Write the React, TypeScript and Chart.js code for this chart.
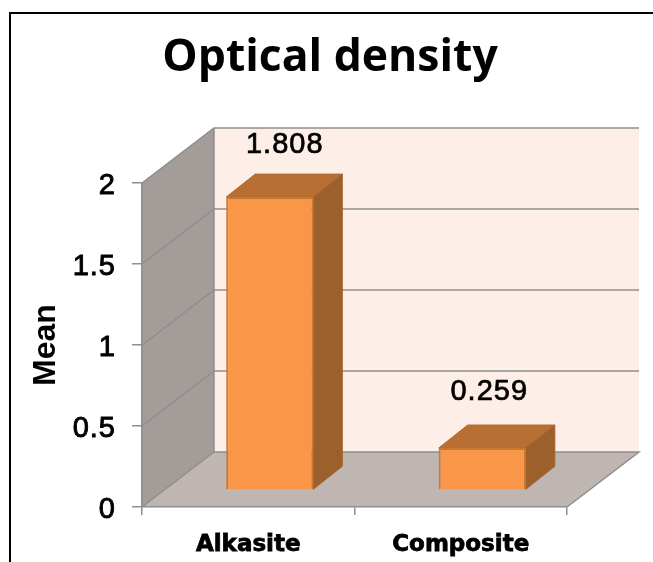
import React, { useEffect, useRef } from "react";
import { Chart, registerables } from "chart.js";

Chart.register(...registerables);

const titleText = "Optical density";
const yAxisTitle = "Mean";
const categories = ["Alkasite", "Composite"];
const meanValues = [1.808, 0.259];
const valueLabels = ["1.808", "0.259"];
const yTicks = [0, 0.5, 1, 1.5, 2];

// 3D projection of the chart box (pixels)
const WALL_DX = 72;
const WALL_DY = -55;
const BAR_SHIFT_X = 21.5;
const BAR_SHIFT_Y = -17;
const BAR_DEPTH_X = 29;
const BAR_DEPTH_Y = -23;

const COL = {
  back: "#fdeee7",
  side: "#a39c98",
  floor: "#bfb5b1",
  grid: "#8e8e8e",
  front: "#fa9647",
  edge: "#c97832",
  top: "#b96f34",
  right: "#9c602d",
};

function poly(ctx: CanvasRenderingContext2D, pts: number[][], fill: string, stroke?: string, lw = 1) {
  ctx.beginPath();
  pts.forEach((p, i) => (i ? ctx.lineTo(p[0], p[1]) : ctx.moveTo(p[0], p[1])));
  ctx.closePath();
  ctx.fillStyle = fill;
  ctx.fill();
  if (stroke) {
    ctx.strokeStyle = stroke;
    ctx.lineWidth = lw;
    ctx.stroke();
  }
}

const box3d = {
  id: "box3d",
  beforeDraw(chart: any) {
    const { ctx, chartArea: a, scales } = chart;
    ctx.save();
    // outer frame, open on the right and at the bottom
    ctx.strokeStyle = "#000";
    ctx.lineWidth = 2;
    ctx.beginPath();
    ctx.moveTo(10, 562);
    ctx.lineTo(10, 13);
    ctx.lineTo(653, 13);
    ctx.stroke();

    const y0 = scales.y.getPixelForValue(0);
    const yMax = scales.y.getPixelForValue(2);
    const dx = WALL_DX, dy = WALL_DY;
    poly(ctx, [[a.left + dx, yMax + dy], [a.right + dx, yMax + dy], [a.right + dx, y0 + dy], [a.left + dx, y0 + dy]], COL.back);
    poly(ctx, [[a.left, yMax], [a.left + dx, yMax + dy], [a.left + dx, y0 + dy], [a.left, y0]], COL.side);
    poly(ctx, [[a.left, y0], [a.left + dx, y0 + dy], [a.right + dx, y0 + dy], [a.right, y0]], COL.floor);

    ctx.strokeStyle = COL.grid;
    ctx.lineWidth = 1.5;
    yTicks.forEach((t) => {
      const y = scales.y.getPixelForValue(t);
      ctx.beginPath();
      ctx.moveTo(a.left, y);
      ctx.lineTo(a.left + dx, y + dy);
      ctx.lineTo(a.right + dx, y + dy);
      if (t === 0) ctx.lineTo(a.right, y);
      ctx.stroke();
    });
    ctx.beginPath();
    ctx.moveTo(a.left + dx, yMax + dy);
    ctx.lineTo(a.left + dx, y0 + dy);
    ctx.stroke();
    ctx.restore();
  },
  beforeDatasetDraw(chart: any) {
    const { ctx } = chart;
    const meta = chart.getDatasetMeta(0);
    ctx.save();
    meta.data.forEach((bar: any) => {
      const l = bar.x - bar.width / 2 + BAR_SHIFT_X;
      const r = bar.x + bar.width / 2 + BAR_SHIFT_X;
      const t = bar.y + BAR_SHIFT_Y;
      const b = bar.base + BAR_SHIFT_Y;
      const ddx = BAR_DEPTH_X, ddy = BAR_DEPTH_Y;
      poly(ctx, [[l, t], [l + ddx, t + ddy], [r + ddx, t + ddy], [r, t]], COL.top, "#b26a30", 1);
      poly(ctx, [[r, t], [r + ddx, t + ddy], [r + ddx, b + ddy], [r, b]], COL.right, "#a8652f", 1);
    });
    ctx.restore();
    ctx.save();
    ctx.translate(BAR_SHIFT_X, BAR_SHIFT_Y);
  },
  afterDatasetDraw(chart: any) {
    chart.ctx.restore();
  },
  afterDatasetsDraw(chart: any) {
    // the y tick labels (z 1) are drawn right after this hook
    chart.ctx.letterSpacing = "1px";
  },
  afterDraw(chart: any) {
    const { ctx } = chart;
    const meta = chart.getDatasetMeta(0);
    ctx.save();
    ctx.fillStyle = "#000";
    ctx.textAlign = "center";
    ctx.textBaseline = "alphabetic";
    ctx.font = '29px "Liberation Sans"';
    ctx.lineWidth = 0.7;
    ctx.strokeStyle = "#000";
    meta.data.forEach((bar: any, i: number) => {
      const x = bar.x + BAR_SHIFT_X + (i === 0 ? 15 : 7);
      const y = i === 0 ? 153 : 400;
      ctx.fillText(valueLabels[i], x, y);
      ctx.strokeText(valueLabels[i], x, y);
    });
    ctx.letterSpacing = "0px";
    ctx.font = 'bold 44.5px "Open Sans"';
    ctx.fillText(titleText, 330, 71);
    ctx.restore();
    ctx.letterSpacing = "0px";
  },
};

export default function App() {
  const ref = useRef<HTMLCanvasElement | null>(null);
  useEffect(() => {
    document.body.style.margin = "0";
    const chart = new Chart(ref.current as HTMLCanvasElement, {
      type: "bar",
      data: {
        labels: categories,
        datasets: [
          {
            label: yAxisTitle,
            data: meanValues,
            backgroundColor: COL.front,
            borderColor: COL.edge,
            borderWidth: 2,
            barPercentage: 0.41,
            categoryPercentage: 1,
            clip: false as any,
          },
        ],
      },
      plugins: [box3d],
      options: {
        responsive: false,
        animation: false,
        layout: { padding: { top: 183, right: 86, left: 27, bottom: 0 } },
        plugins: { legend: { display: false }, tooltip: { enabled: false }, title: { display: false } },
        scales: {
          x: {
            offset: true,
            grid: { display: true, drawOnChartArea: false, offset: true, color: COL.grid, lineWidth: 1.5, tickLength: 8 },
            border: { display: true, color: COL.grid, width: 1.5 },
            ticks: {
              color: "#000",
              padding: 16,
              maxRotation: 0,
              font: { family: "DejaVu Sans", size: 23, weight: "bold" },
              textStrokeWidth: 0.8,
              textStrokeColor: "#000",
            } as any,
            afterFit(s: any) { s.height = 55; },
          },
          y: {
            min: 0,
            max: 2,
            grid: { display: true, drawOnChartArea: false, color: COL.grid, lineWidth: 1.5, tickLength: 10 },
            border: { display: true, color: COL.grid, width: 1.5 },
            ticks: {
              stepSize: 0.5,
              color: "#000",
              padding: 16,
              z: 1,
              labelOffset: 3,
              font: { family: "Liberation Sans", size: 29 },
              textStrokeWidth: 0.9,
              textStrokeColor: "#000",
              callback: (v: any) => String(v),
            } as any,
            title: {
              display: true,
              text: yAxisTitle,
              color: "#000",
              padding: { top: 0, bottom: 0 },
              font: { family: "Liberation Sans", size: 32, weight: "bold" },
            },
            afterFit(s: any) { s.width = 115; },
          },
        },
      },
    });
    return () => chart.destroy();
  }, []);
  return (
    <div style={{ width: 653, height: 562 }}>
      <canvas ref={ref} width={653} height={562} style={{ display: "block" }} />
    </div>
  );
}
